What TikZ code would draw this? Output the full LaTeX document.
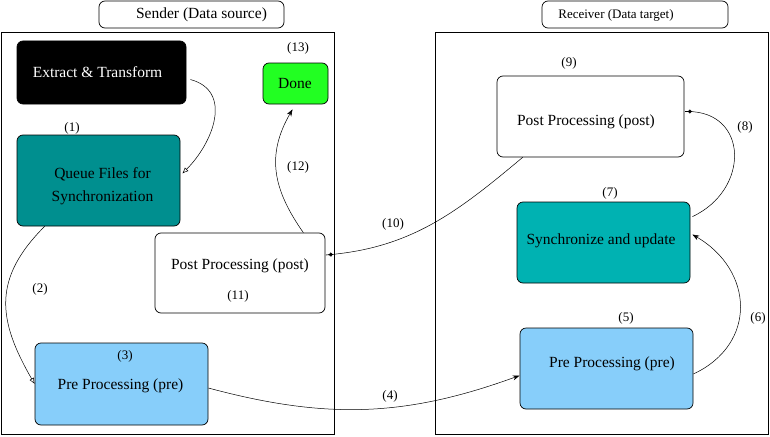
\documentclass[tikz,border=0pt]{standalone}
\usepackage{fontspec}
\setmainfont{Liberation Serif}
\usetikzlibrary{arrows.meta}
\definecolor{queueteal}{HTML}{008F8F}
\definecolor{syncteal}{HTML}{00B2B2}
\definecolor{preblue}{HTML}{87CEFA}
\definecolor{donegreen}{HTML}{22FF22}
\begin{document}
\begin{tikzpicture}[x=1pt,y=1pt,line width=0.7pt,
  frame/.style={draw,inner sep=0pt},
  box/.style={draw,rounded corners=6pt,inner sep=0pt},
  txt/.style={font=\fontsize{15.5}{23}\selectfont,inner sep=0pt,align=center},
  num/.style={font=\fontsize{13}{15}\selectfont,inner sep=0pt},
  conn/.style={line width=0.5pt},
  openarrow/.style={-{Latex[open,length=6pt,width=5pt]}},
  fillarrow/.style={-{Stealth[length=7pt,width=5pt]}},
  dotend/.style={-{Circle[length=4pt]Rectangle[length=3pt,width=0.6pt]}}]
\useasboundingbox (0,0) rectangle (770,-436);
\node[frame,minimum width=333pt,minimum height=402pt] (sender) at (167.5,-233) {};
\node[frame,minimum width=333pt,minimum height=402pt] (receiver) at (601.5,-233) {};
\node[box,fill=white,minimum width=185pt,minimum height=27pt] (senderhead) at (191.5,-14.5) {};
\node[txt] (sendertxt) at (201.5,-15) {Sender (Data source)};
\node[box,fill=white,minimum width=186pt,minimum height=27pt] (receiverhead) at (635,-14.5) {};
\node[num] (receivertxt) at (616,-15) {Receiver (Data target)};
\node[box,fill=black,minimum width=169pt,minimum height=63pt] (extract) at (101.5,-72.5) {};
\node[txt,text=white] (extracttxt) at (97.5,-72) {Extract \& Transform};
\node[box,fill=donegreen,minimum width=65pt,minimum height=41pt] (done) at (295.5,-83.5) {};
\node[txt] (donetxt) at (295,-84) {Done};
\node[box,fill=queueteal,minimum width=163pt,minimum height=91pt] (queue) at (98.5,-180.5) {};
\node[txt] (queuetxt) at (102.5,-186.5) {Queue Files for\\Synchronization};
\node[box,fill=white,minimum width=170pt,minimum height=80pt] (spost) at (240,-273) {};
\node[txt] (sposttxt) at (240,-266) {Post Processing (post)};
\node[box,fill=preblue,minimum width=173pt,minimum height=82pt] (spre) at (121.5,-384) {};
\node[txt] (spretxt) at (120.5,-386) {Pre Processing (pre)};
\node[box,fill=white,minimum width=187pt,minimum height=81pt] (rpost) at (590.5,-116.5) {};
\node[txt] (rposttxt) at (586,-121.5) {Post Processing (post)};
\node[box,fill=syncteal,minimum width=173pt,minimum height=81pt] (sync) at (603.5,-242.5) {};
\node[txt] (synctxt) at (601,-241) {Synchronize and update};
\node[box,fill=preblue,minimum width=173pt,minimum height=81pt] (rpre) at (606.5,-368.5) {};
\node[txt] (rpretxt) at (612,-364) {Pre Processing (pre)};
\node[num] (n1) at (72,-128) {(1)};
\node[num] (n2) at (40,-289) {(2)};
\node[num] (n3) at (125,-356) {(3)};
\node[num] (n4) at (390,-396) {(4)};
\node[num] (n5) at (626,-318) {(5)};
\node[num] (n6) at (758,-318) {(6)};
\node[num] (n7) at (610,-193) {(7)};
\node[num] (n8) at (745,-127) {(8)};
\node[num] (n9) at (569,-63) {(9)};
\node[num] (n10) at (393,-224) {(10)};
\node[num] (n11) at (238,-296) {(11)};
\node[num] (n12) at (298,-167) {(12)};
\node[num] (n13) at (298,-48) {(13)};
\draw[conn,openarrow] ([shift={(4pt,-7pt)}]extract.east) to[out=-15,in=45,looseness=1.2] ([shift={(2pt,7pt)}]queue.east);
\draw[conn,openarrow] ([xshift=28pt]queue.south west) to[out=-135,in=120,looseness=1.2] (spre.west);
\draw[conn,fillarrow] ([yshift=-4pt]spre.east) to[out=-15,in=200] ([yshift=-7pt]rpre.west);
\draw[conn,fillarrow] ([yshift=-5.5pt]rpre.east) to[out=25,in=-30,looseness=1.3] ([shift={(2pt,8pt)}]sync.east);
\draw[conn,dotend] ([shift={(2pt,-15pt)}]sync.north east) to[out=25,in=0,looseness=1.55] ([shift={(0.5pt,5pt)}]rpost.east);
\draw[conn,dotend] ([xshift=26pt]rpost.south west) to[out=-140,in=5] ([shift={(0.5pt,18pt)}]spost.east);
\draw[conn,fillarrow] ([xshift=-22pt]spost.north east) to[out=125,in=-120,looseness=1.1] ([shift={(-3pt,-5pt)}]done.south);
\end{tikzpicture}
\end{document}
